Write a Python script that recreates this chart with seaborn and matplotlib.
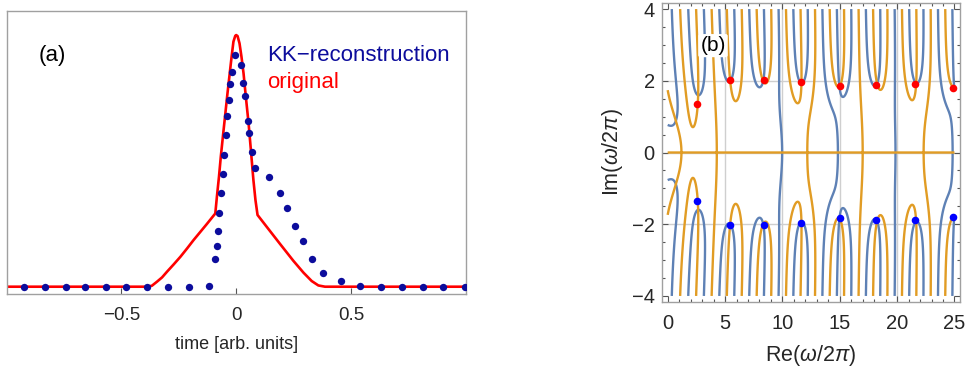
import numpy as np
import matplotlib
matplotlib.use("Agg")
import matplotlib.pyplot as plt
from matplotlib.ticker import MultipleLocator
import seaborn as sns

# ---------------- panel (a) data ----------------
orig_t = [-1.0, -0.388, -0.367, -0.345, -0.323, -0.301, -0.272, -0.243, -0.214, -0.186,
          -0.157, -0.128, -0.091, -0.084, -0.075, -0.067, -0.058, -0.048, -0.038, -0.029,
          -0.020, -0.012, -0.004, 0.0, 0.006, 0.0145, 0.023, 0.032, 0.042, 0.054, 0.064,
          0.075, 0.084, 0.093, 0.133, 0.191, 0.249, 0.293, 0.329, 0.358, 0.387, 1.0]
orig_v = [0.0, 0.0, 0.004, 0.020, 0.037, 0.060, 0.089, 0.119, 0.152, 0.185,
          0.217, 0.249, 0.291, 0.358, 0.437, 0.517, 0.596, 0.682, 0.768, 0.841,
          0.914, 0.974, 0.997, 1.0, 0.996, 0.967, 0.914, 0.848, 0.755, 0.649, 0.543,
          0.424, 0.344, 0.285, 0.238, 0.170, 0.103, 0.056, 0.0225, 0.005, 0.0, 0.0]

kk_t = [-0.925, -0.833, -0.742, -0.657, -0.568, -0.478, -0.388, -0.297, -0.207, -0.120,
        -0.0913, -0.0841, -0.0783, -0.0739, -0.0667, -0.0594, -0.0536, -0.0464, -0.0406,
        -0.0333, -0.029, -0.0203, -0.0072, 0.0188, 0.029, 0.0377, 0.0493, 0.0565, 0.0667,
        0.084, 0.145, 0.191, 0.223, 0.257, 0.290, 0.329, 0.380, 0.455, 0.541, 0.630,
        0.722, 0.812, 0.901, 0.996]
kk_v = [0.0, 0.0, 0.0, 0.0, 0.0, 0.0, 0.0, 0.0, 0.0, 0.004,
        0.111, 0.163, 0.223, 0.294, 0.371, 0.446, 0.523, 0.601, 0.678,
        0.742, 0.804, 0.853, 0.921, 0.883, 0.808, 0.759, 0.660, 0.612, 0.536,
        0.473, 0.437, 0.371, 0.311, 0.242, 0.183, 0.111, 0.056, 0.0225, 0.004, 0.0,
        0.0, 0.0, 0.0, 0.0]

time_ticks = [-0.5, 0.0, 0.5]
time_tick_labels = ["\u22120.5", "0", "0.5"]

# ---------------- panel (b) data ----------------
zero_up_re = [2.59, 5.44, 8.37, 11.63, 15.0, 18.2, 21.6, 24.88]
zero_up_im = [1.35, 2.02, 2.02, 1.98, 1.85, 1.89, 1.90, 1.81]
zero_dn_re = [2.59, 5.44, 8.37, 11.66, 15.0, 18.2, 21.6, 24.88]
zero_dn_im = [-1.35, -2.01, -2.01, -1.97, -1.84, -1.88, -1.88, -1.80]

re_ticks = [0, 5, 10, 15, 20, 25]
im_ticks = [-4, -2, 0, 2, 4]
im_tick_labels = ["\u22124", "\u22122", "0", "2", "4"]

# model spectrum (peak term + two edge terms) whose Re=0 / Im=0 lines are drawn
peak_amp, peak_a = 370.0, 0.052
edge_scale, edge_shift, edge_power = 10.0, 2.0, 2
inner_amp, tau1, inner_phase = 36.0, 0.1, 0.094
outer_amp, tau2, outer_phase = 1.0, 0.4, 4.878

# ---------------- style ----------------
sns.set_theme(style="white")
plt.rcParams["font.family"] = ["Liberation Sans", "DejaVu Sans"]
plt.rcParams["mathtext.fontset"] = "custom"
plt.rcParams["mathtext.rm"] = "Liberation Sans"
plt.rcParams["mathtext.it"] = "Liberation Sans:italic"

FRAME = "#a0a0a0"
NAVY = "#0c0c9c"
C_BLUE = "#5e81b5"
C_ORANGE = "#e19c24"

fig = plt.figure(figsize=(9.68, 3.72), dpi=100)
ax1 = fig.add_axes([0.0069, 0.209, 0.4742, 0.761])
ax2 = fig.add_axes([0.6836, 0.189, 0.3081, 0.804])

# ---------------- panel (a) ----------------
sns.lineplot(x=orig_t, y=orig_v, color="red", lw=1.9, ax=ax1, sort=False, zorder=2)
sns.scatterplot(x=kk_t, y=kk_v, color=NAVY, s=28, linewidth=0, ax=ax1, zorder=3)
ax1.set_xlim(-1.0, 1.0)
ax1.set_ylim(-0.03, 1.095)
ax1.set_xticks(time_ticks)
ax1.set_xticklabels(time_tick_labels)
ax1.set_yticks([])
ax1.tick_params(axis="x", direction="in", length=4, width=0.8, color="#555555",
                labelsize=13.5, pad=9, bottom=True)
ax1.set_xlabel("time [arb. units]", fontsize=13, labelpad=9)
for s in ax1.spines.values():
    s.set_color(FRAME)
    s.set_linewidth(1.0)
ax1.text(0.070, 0.845, "(a)", transform=ax1.transAxes, fontsize=16, color="black",
         ha="left", va="center")
ax1.text(0.568, 0.845, "KK\u2212reconstruction", transform=ax1.transAxes, fontsize=16,
         color=NAVY, ha="left", va="center")
ax1.text(0.568, 0.749, "original", transform=ax1.transAxes, fontsize=16,
         color="red", ha="left", va="center")

# ---------------- panel (b) ----------------
xg = np.linspace(0.0, 25.0, 1501)
yg = np.linspace(-4.0, 4.0, 800)
X, Y = np.meshgrid(xg, yg)
Z = X + 1j * Y
K = (edge_scale / (Z + edge_shift)) ** edge_power
F = (peak_amp * np.exp(-peak_a * Z ** 2)
     - K * (inner_amp * np.sin(2 * np.pi * tau1 * Z + inner_phase)
            + outer_amp * np.cos(2 * np.pi * tau2 * Z + outer_phase)))

for v in [5, 10, 15, 20]:
    ax2.axvline(v, color="#cfcfcf", lw=1.0, zorder=0)
for v in [-2, 0, 2]:
    ax2.axhline(v, color="#cfcfcf", lw=1.0, zorder=0)

ax2.contour(X, Y, F.real, levels=[0.0], colors=[C_BLUE], linewidths=1.7, zorder=2)
ax2.contour(X, Y, F.imag, levels=[0.0], colors=[C_ORANGE], linewidths=1.7, zorder=3)

sns.scatterplot(x=zero_up_re, y=zero_up_im, color="red", s=30, linewidth=0, ax=ax2, zorder=5)
sns.scatterplot(x=zero_dn_re, y=zero_dn_im, color="blue", s=30, linewidth=0, ax=ax2, zorder=5)

ax2.set_xlim(-0.52, 25.48)
ax2.set_ylim(-4.16, 4.18)
ax2.set_xticks(re_ticks)
ax2.set_yticks(im_ticks)
ax2.set_yticklabels(im_tick_labels)
ax2.xaxis.set_minor_locator(MultipleLocator(1))
ax2.yaxis.set_minor_locator(MultipleLocator(0.5))
ax2.tick_params(which="both", direction="in", top=True, right=True, bottom=True, left=True,
                color="#555555", width=0.8, labelsize=14.5)
ax2.tick_params(which="major", length=4.5)
ax2.tick_params(which="minor", length=2.5)
ax2.tick_params(axis="x", pad=9)
ax2.tick_params(axis="y", pad=5)
ax2.set_xlabel(r"Re($\omega$/2$\pi$)", fontsize=15.5, labelpad=7)
ax2.set_ylabel(r"Im($\omega$/2$\pi$)", fontsize=15.5, labelpad=5)
for s in ax2.spines.values():
    s.set_color(FRAME)
    s.set_linewidth(1.0)
ax2.text(3.95, 2.98, "(b)", fontsize=15, color="black", ha="center", va="center", zorder=6,
         bbox=dict(boxstyle="round,pad=0.1", fc="white", ec="none"))

fig.savefig("out.png", dpi=100)
